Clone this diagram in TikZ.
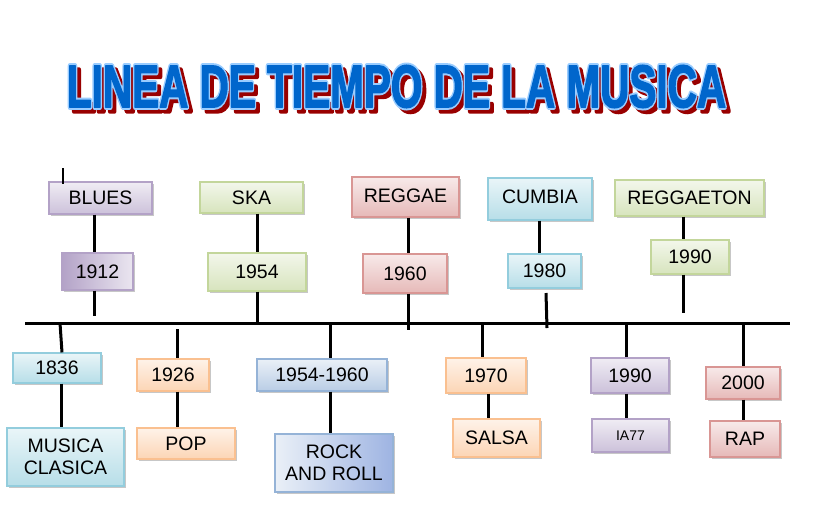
\documentclass[tikz,border=0pt]{standalone}
\usepackage{fontspec}
\setmainfont{Liberation Sans}
\usetikzlibrary{shadows}
\definecolor{purB}{HTML}{B3A2C7}\definecolor{purF}{HTML}{CCC1DA}
\definecolor{grnB}{HTML}{C3D69B}\definecolor{grnF}{HTML}{D7E4BD}
\definecolor{redB}{HTML}{D99694}\definecolor{redF}{HTML}{E6B9B8}
\definecolor{cyaB}{HTML}{93CDDD}\definecolor{cyaF}{HTML}{B7DEE8}
\definecolor{oraB}{HTML}{FAC090}\definecolor{oraF}{HTML}{FCD5B5}
\definecolor{stlB}{HTML}{95B3D7}\definecolor{stlF}{HTML}{B9CDE5}
\definecolor{ttlBlue}{HTML}{0066CC}\definecolor{ttlLight}{HTML}{99CCFF}\definecolor{ttlRed}{HTML}{990000}
% #1 fill colour, #2 stroke rgb, #3 stroke width
\newcommand\ttlrender[3]{\scalebox{0.675}[1]{\fontsize{60}{60}\selectfont\bfseries\color{#1}\special{pdf:literal direct 2 Tr #3 w 1 j #2 RG}LINEA DE TIEMPO DE LA MUSICA\special{pdf:literal direct 0 Tr}}}
\tikzset{
  boxbase/.style={line width=1.1pt, inner sep=0pt, align=center,
    font=\fontsize{19.5}{22}\selectfont,
    drop shadow={shadow xshift=1.6pt, shadow yshift=-1.6pt, opacity=0.22, fill=black}},
  cbox/.style 2 args={boxbase, draw=#1, top color=#2!30!white, bottom color=#2},
  pur/.style={cbox={purB}{purF}},
  grn/.style={cbox={grnB}{grnF}},
  rd/.style={cbox={redB}{redF}},
  cya/.style={cbox={cyaB}{cyaF}},
  ora/.style={cbox={oraB}{oraF}},
  stl/.style={cbox={stlB}{stlF}},
  sz/.style 2 args={minimum width=#1pt, minimum height=#2pt},
  conn/.style={line width=3pt, black},
  ttl/.style={inner sep=0pt}
}
\begin{document}
\begin{tikzpicture}[x=1pt,y=-1pt]
\useasboundingbox[fill=white] (0,0) rectangle (819,507);
% title
\node[ttl] (tshadow) at (400.5,90.5) {\ttlrender{ttlRed}{0.6 0 0}{5}};
\node[ttl] (toutline) at (396.5,86.5) {\ttlrender{ttlLight}{0.6 0.8 1}{5.5}};
\node[ttl] (title) at (396.5,86.5) {\ttlrender{ttlBlue}{0 0.4 0.8}{1.6}};

% axis
\coordinate (ml) at (25,323);
\coordinate (mr) at (790,323);
\draw[conn] (ml) -- (mr);

% top boxes
\node[pur, sz={103}{32}] (blues) at (100.5,198) {BLUES};
\node[pur, sz={71}{37}, left color=purB, right color=purF!40!white] (y1912) at (97.5,271.5) {1912};
\node[grn, sz={103}{31}] (ska) at (251.5,197.5) {SKA};
\node[grn, sz={98}{38}] (y1954) at (257,272) {1954};
\node[rd, sz={107}{40}] (reggae) at (405.5,197) {\raisebox{3pt}{REGGAE}};
\node[rd, sz={84}{39}] (y1960) at (405,273.5) {1960};
\node[cya, sz={104}{42}] (cumbia) at (540,199) {\raisebox{5.5pt}{CUMBIA}};
\node[cya, sz={73}{34}] (y1980) at (544.5,271) {1980};
\node[grn, sz={149}{36}] (reggaeton) at (689.5,198) {REGGAETON};
\node[grn, sz={78}{34}] (y1990t) at (690,257) {1990};

% bottom boxes
\node[cya, sz={88}{30}] (y1836) at (57,368) {1836};
\node[cya, sz={117}{58}] (clasica) at (65.5,457) {MUSICA\\CLASICA};
\node[ora, sz={72}{32}] (y1926) at (173,375) {1926};
\node[ora, sz={98}{31}] (pop) at (186,443.5) {POP};
\node[stl, sz={130}{32}] (y1954b) at (322,375) {1954-1960};
\node[stl, sz={118}{58}, left color=stlF!30!white, right color=stlB!90!blue!80!white] (rock) at (334,463) {ROCK\\AND ROLL};
\node[ora, sz={80}{35}] (y1970) at (486,375.5) {1970};
\node[ora, sz={87}{38}] (salsa) at (496.5,438) {SALSA};
\node[pur, sz={78}{35}] (y1990b) at (630,375.5) {1990};
\node[pur, sz={77}{33}, font=\fontsize{14}{16}\selectfont] (ia77) at (630.5,435.5) {IA77};
\node[rd, sz={74}{32}] (y2000) at (743,383) {2000};
\node[rd, sz={70}{36}] (rap) at (745,439) {RAP};

% free-end coordinates
\coordinate (e1912) at (94,316);
\coordinate (e1960) at (408,330);
\coordinate (s1980) at (546,293);
\coordinate (e1980) at (547,328);
\coordinate (e1990) at (683,313);
\coordinate (a1836) at (60,323);
\coordinate (s1926) at (177,329);
\coordinate (k1) at (63,168);

% top connectors
\draw[conn] (blues.south -| e1912) -- (y1912.north -| e1912);
\draw[conn] (y1912.south -| e1912) -- (e1912);
\draw[conn] (ska.south -| 257,0) -- (y1954.north -| 257,0);
\draw[conn] (y1954.south -| 257,0) -- (ml -| 257,0);
\draw[conn] (reggae.south -| e1960) -- (y1960.north -| e1960);
\draw[conn] (y1960.south -| e1960) -- (e1960);
\draw[conn] (cumbia.south -| 539,0) -- (y1980.north -| 539,0);
\draw[conn] (s1980) -- (e1980);
\draw[conn] (reggaeton.south -| e1990) -- (y1990t.north -| e1990);
\draw[conn] (y1990t.south -| e1990) -- (e1990);
\draw[line width=1.3pt] (k1) -- (k1 |- blues.north) -- ++(0,3);

% bottom connectors
\draw[conn] (a1836) -- (y1836.north -| 62,0);
\draw[conn] (y1836.south -| 61,0) -- (clasica.north -| 61,0);
\draw[conn] (s1926) -- (y1926.north -| s1926);
\draw[conn] (y1926.south -| s1926) -- (pop.north -| s1926);
\draw[conn] (ml -| 330,0) -- (y1954b.north -| 330,0);
\draw[conn] (y1954b.south -| 330,0) -- (rock.north -| 330,0);
\draw[conn] (ml -| 482,0) -- (y1970.north -| 482,0);
\draw[conn] (y1970.south -| 488,0) -- (salsa.north -| 488,0);
\draw[conn] (ml -| 626,0) -- (y1990b.north -| 626,0);
\draw[conn] (y1990b.south -| 626,0) -- (ia77.north -| 626,0);
\draw[conn] (ml -| 743,0) -- (y2000.north -| 743,0);
\draw[conn] (y2000.south -| 743,0) -- (rap.north -| 743,0);
\end{tikzpicture}
\end{document}
